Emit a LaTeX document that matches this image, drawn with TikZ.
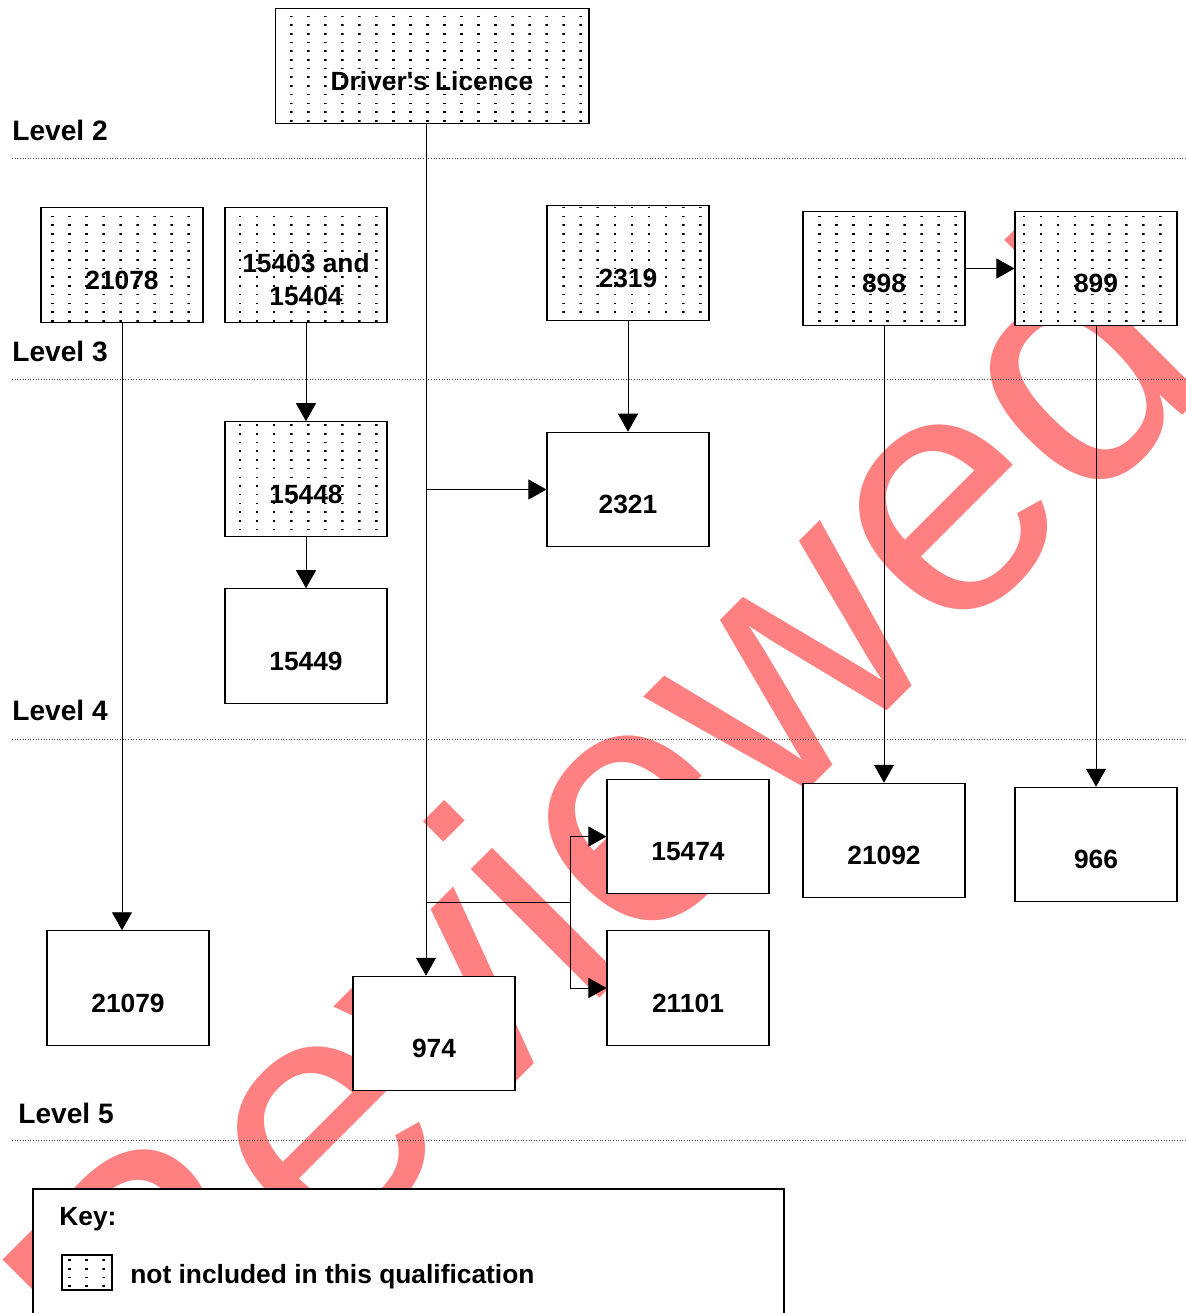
\documentclass[tikz,border=0pt]{standalone}
\usepackage{fontspec}
\setmainfont{Liberation Sans}
\usetikzlibrary{arrows.meta,patterns}
\definecolor{stampred}{HTML}{FF8080}
% small dashes on a grid, as in the "not included" boxes
\pgfdeclarepatternformonly{dashgrid}{\pgfpointorigin}{\pgfpoint{1.6pt}{0.9pt}}{\pgfpoint{9.7pt}{4.95pt}}{%
  \pgfpathrectangle{\pgfpointorigin}{\pgfpoint{1.6pt}{0.9pt}}\pgfusepath{fill}}
\tikzset{
  unit/.style={draw=black, line width=0.6pt, fill=white, minimum width=3.24cm,
    minimum height=2.29cm, inner sep=0pt},
  excluded/.style={draw=black, line width=0.6pt, preaction={fill=white},
    pattern=dashgrid, minimum width=3.24cm, minimum height=2.29cm, inner sep=0pt},
  boxtext/.style={font=\bfseries\fontsize{15}{18.8}\selectfont, yshift=-0.3cm, align=center},
  levellabel/.style={font=\bfseries\fontsize{16}{19}\selectfont, anchor=west, inner sep=0pt},
  levelline/.style={densely dotted, line width=0.5pt, black!70},
  link/.style={line width=0.55pt, black, -{Triangle[length=0.36cm,width=0.4cm]}},
  keytext/.style={font=\bfseries\fontsize{15}{18}\selectfont, anchor=west, inner sep=0pt},
  stamp/.style={text=stampred, rotate=45, font=\fontsize{196}{196}\selectfont, inner sep=0pt},
}
\begin{document}
\begin{tikzpicture}[x=0.02cm, y=-0.02cm]
\useasboundingbox (0,0) rectangle (1186,1313);
% watermark
\node[stamp] (wmark) at (598,826) {Reviewed};

% level separators
\draw[levelline] (12,158) -- (1186,158);
\draw[levelline] (12,379) -- (1186,379);
\draw[levelline] (12,739) -- (1186,739);
\draw[levelline] (12,1140) -- (1186,1140);
\node[levellabel] (lv2) at (12,130) {Level 2};
\node[levellabel] (lv3) at (12,351) {Level 3};
\node[levellabel] (lv4) at (12,710) {Level 4};
\node[levellabel] (lv5) at (18,1113) {Level 5};

% units
\node[excluded, minimum width=6.28cm, label={[boxtext]center:Driver\textquotesingle s Licence}] (dl) at (432,66) {};
\node[excluded, label={[boxtext]center:21078}] (n21078) at (122,265) {};
\node[excluded, label={[boxtext]center:15403 and\\15404}] (n15403) at (306,265) {};
\node[excluded, label={[boxtext]center:2319}] (n2319) at (628,263) {};
\node[excluded, label={[boxtext]center:898}] (n898) at (884,268.5) {};
\node[excluded, label={[boxtext]center:899}] (n899) at (1096,268.5) {};
\node[excluded, label={[boxtext]center:15448}] (n15448) at (306,479) {};
\node[unit, label={[boxtext]center:2321}] (n2321) at (628,489.5) {};
\node[unit, label={[boxtext]center:15449}] (n15449) at (306,646) {};
\node[unit, label={[boxtext]center:15474}] (n15474) at (688,836.5) {};
\node[unit, label={[boxtext]center:21092}] (n21092) at (884,840.5) {};
\node[unit, label={[boxtext]center:966}] (n966) at (1096,844.5) {};
\node[unit, label={[boxtext]center:21079}] (n21079) at (128,988) {};
\node[unit, label={[boxtext]center:974}] (n974) at (434,1033.5) {};
\node[unit, label={[boxtext]center:21101}] (n21101) at (688,988) {};

% connectors
\coordinate (trunk) at ([xshift=-0.12cm]dl.south);
\coordinate (fork) at (570,902);
\draw[link] (trunk) -- (trunk |- n974.north);
\draw[link] (trunk |- n2321.west) -- (n2321.west);
\draw[line width=0.55pt] (trunk |- fork) -- (fork);
\draw[link] (fork) |- (n15474.west);
\draw[link] (fork) |- (n21101.west);
\draw[link] (n21078.south) -- (n21078.south |- n21079.north);
\draw[link] (n15403.south) -- (n15448.north);
\draw[link] (n15448.south) -- (n15449.north);
\draw[link] (n2319.south) -- (n2321.north);
\draw[link] (n898.east) -- (n899.west);
\draw[link] (n898.south) -- (n21092.north);
\draw[link] (n899.south) -- (n966.north);

% key
\draw[line width=0.6pt, fill=white] (33,1189) rectangle (784,1340);
\node[keytext] (keyhead) at (59,1219) {Key:};
\node[excluded, minimum width=1cm, minimum height=0.7cm] (keyswatch) at (87,1272.5) {};
\node[keytext] (keylabel) at (130,1277) {not included in this qualification};
\end{tikzpicture}
\end{document}
